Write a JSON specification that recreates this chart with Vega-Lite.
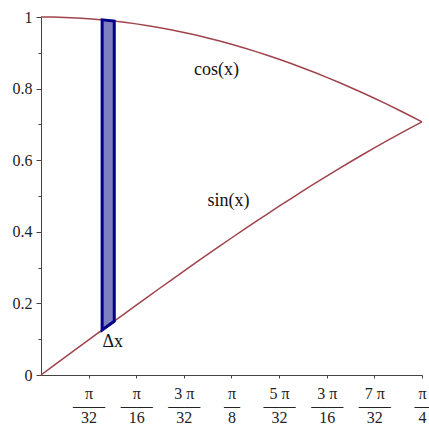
{
  "$schema": "https://vega.github.io/schema/vega-lite/v6.json",
  "width": 381,
  "height": 358,
  "autosize": {"type": "none"},
  "padding": {"left": 41, "top": 17, "right": 7, "bottom": 63},
  "config": {
    "view": {"stroke": null},
    "font": "Times New Roman, Liberation Serif, DejaVu Serif, serif",
    "axis": {"grid": false, "domainColor": "#444444", "tickColor": "#444444", "labelColor": "#222222", "labelFont": "Times New Roman, Liberation Serif, DejaVu Serif, serif", "titleFont": "Times New Roman, Liberation Serif, DejaVu Serif, serif", "labelFontSize": 16, "titleFontSize": 16, "titleFontWeight": "normal", "titleColor": "#222222"}
  },
  "datasets": {
    "curves": [
      {"x": 0.0, "cos": 1.0, "sin": 0.0},
      {"x": 0.024544, "cos": 0.9997, "sin": 0.02454},
      {"x": 0.049087, "cos": 0.9988, "sin": 0.04907},
      {"x": 0.073631, "cos": 0.99729, "sin": 0.07356},
      {"x": 0.098175, "cos": 0.99518, "sin": 0.09802},
      {"x": 0.122718, "cos": 0.99248, "sin": 0.12241},
      {"x": 0.147262, "cos": 0.98918, "sin": 0.14673},
      {"x": 0.171806, "cos": 0.98528, "sin": 0.17096},
      {"x": 0.19635, "cos": 0.98079, "sin": 0.19509},
      {"x": 0.220893, "cos": 0.9757, "sin": 0.2191},
      {"x": 0.245437, "cos": 0.97003, "sin": 0.24298},
      {"x": 0.269981, "cos": 0.96378, "sin": 0.26671},
      {"x": 0.294524, "cos": 0.95694, "sin": 0.29028},
      {"x": 0.319068, "cos": 0.94953, "sin": 0.31368},
      {"x": 0.343612, "cos": 0.94154, "sin": 0.33689},
      {"x": 0.368155, "cos": 0.93299, "sin": 0.3599},
      {"x": 0.392699, "cos": 0.92388, "sin": 0.38268},
      {"x": 0.417243, "cos": 0.91421, "sin": 0.40524},
      {"x": 0.441786, "cos": 0.90399, "sin": 0.42756},
      {"x": 0.46633, "cos": 0.89322, "sin": 0.44961},
      {"x": 0.490874, "cos": 0.88192, "sin": 0.4714},
      {"x": 0.515418, "cos": 0.87009, "sin": 0.4929},
      {"x": 0.539961, "cos": 0.85773, "sin": 0.5141},
      {"x": 0.564505, "cos": 0.84485, "sin": 0.535},
      {"x": 0.589049, "cos": 0.83147, "sin": 0.55557},
      {"x": 0.613592, "cos": 0.81758, "sin": 0.57581},
      {"x": 0.638136, "cos": 0.80321, "sin": 0.5957},
      {"x": 0.66268, "cos": 0.78835, "sin": 0.61523},
      {"x": 0.687223, "cos": 0.77301, "sin": 0.63439},
      {"x": 0.711767, "cos": 0.75721, "sin": 0.65317},
      {"x": 0.736311, "cos": 0.74095, "sin": 0.67156},
      {"x": 0.760854, "cos": 0.72425, "sin": 0.68954},
      {"x": 0.785398, "cos": 0.70711, "sin": 0.70711}
    ],
    "strip": [
      {"x": 0.126, "cos": 0.99207, "sin": 0.12567},
      {"x": 0.151, "cos": 0.98862, "sin": 0.15043}
    ],
    "labels": [
      {"x": 0.3617, "y": 0.852, "t": "cos(x)"},
      {"x": 0.3865, "y": 0.487, "t": "sin(x)"},
      {"x": 0.1478, "y": 0.093, "t": "Δx"}
    ]
  },
  "resolve": {"axis": {"y": "independent"}},
  "layer": [
    {
      "data": {"name": "curves"},
      "mark": {"type": "line", "color": "#a0434b", "strokeWidth": 1.5},
      "encoding": {
        "x": {"field": "x", "type": "quantitative", "scale": {"domain": [0, 0.7854], "nice": false},
          "axis": {"title": "x", "titlePadding": 8, "values": [0.0981748, 0.1963495, 0.2945243, 0.3926991, 0.4908739, 0.5890486, 0.6872234, 0.785398],
            "labelExpr": "[null, ['π','——','32'], ['π','——','16'], ['3 π','——','32'], ['π','—','8'], ['5 π','——','32'], ['3 π','——','16'], ['7 π','——','32'], ['π','—','4']][round(datum.value*32/PI)]",
            "tickSize": 3, "labelPadding": 7, "labelLineHeight": 12, "labelBaseline": "top", "labelAlign": "center", "labelFlush": false, "labelOverlap": false}},
        "y": {"field": "cos", "type": "quantitative", "scale": {"domain": [0, 1], "nice": false},
          "axis": {"title": null, "orient": "left", "values": [0, 0.2, 0.4, 0.6, 0.8, 1], "labelExpr": "datum.value == 0 ? '0' : datum.value == 1 ? '1' : format(datum.value, '.1f')", "tickSize": 5, "labelPadding": 4, "labelFlush": false, "labelOverlap": false}}
      }
    },
    {
      "data": {"name": "curves"},
      "mark": {"type": "line", "color": "#a0434b", "strokeWidth": 1.5},
      "encoding": {
        "x": {"field": "x", "type": "quantitative", "scale": {"domain": [0, 0.7854], "nice": false}},
        "y": {"field": "sin", "type": "quantitative", "scale": {"domain": [0, 1], "nice": false},
          "axis": {"title": null, "orient": "left", "values": [0.1, 0.3, 0.5, 0.7, 0.9], "labels": false, "domain": false, "tickSize": 3}}
      }
    },
    {
      "data": {"name": "strip"},
      "mark": {"type": "area", "fill": "#8080c0", "stroke": "#000088", "strokeWidth": 3, "strokeJoin": "miter"},
      "encoding": {
        "x": {"field": "x", "type": "quantitative", "scale": {"domain": [0, 0.7854], "nice": false}},
        "y": {"field": "sin", "type": "quantitative", "scale": {"domain": [0, 1], "nice": false}, "axis": null},
        "y2": {"field": "cos"}
      }
    },
    {
      "data": {"name": "labels"},
      "mark": {"type": "text", "font": "Times New Roman, Liberation Serif, DejaVu Serif, serif", "fontSize": 18, "color": "#111111", "align": "center", "baseline": "middle"},
      "encoding": {
        "x": {"field": "x", "type": "quantitative", "scale": {"domain": [0, 0.7854], "nice": false}},
        "y": {"field": "y", "type": "quantitative", "scale": {"domain": [0, 1], "nice": false}, "axis": null},
        "text": {"field": "t"}
      }
    }
  ]
}
